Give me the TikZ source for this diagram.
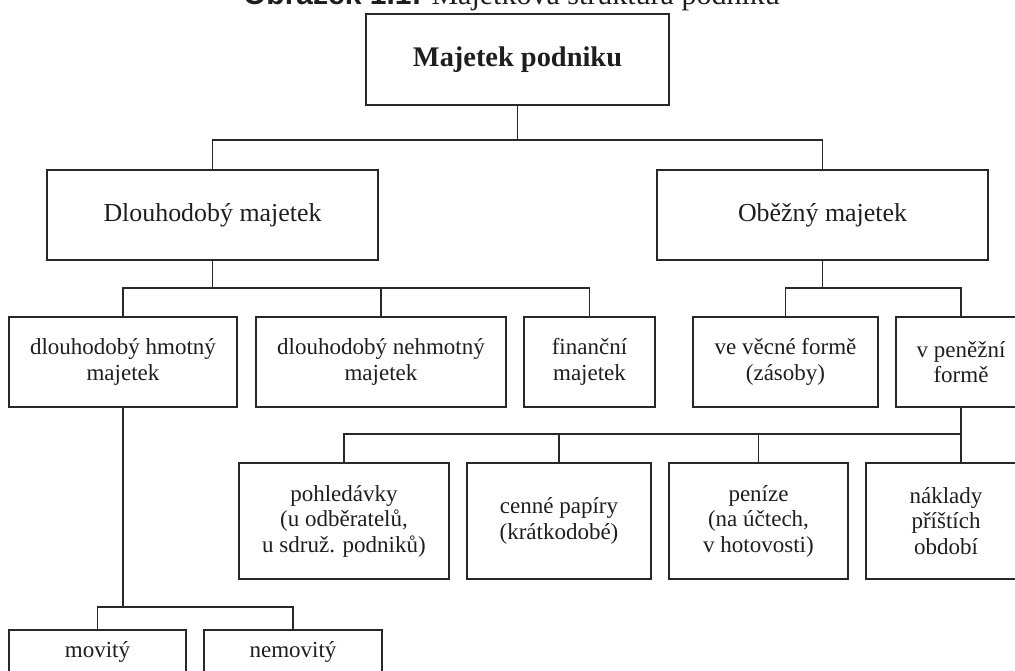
\documentclass[tikz,border=0pt]{standalone}
\usepackage{fontspec}
\setmainfont{Liberation Serif}
\newfontfamily\capfont{Liberation Sans}
\definecolor{linegray}{RGB}{40,40,40}
\definecolor{textgray}{RGB}{30,30,30}

\begin{document}
\begin{tikzpicture}[x=1pt, y=-1pt, line width=1.5pt, line cap=rect, line join=miter,
  box/.style={draw=linegray, inner sep=0pt, outer sep=0pt, align=center, text=textgray,
    font=\fontsize{23}{25.5}\selectfont},
  topbox/.style={box, font=\fontsize{28.4}{32}\selectfont\bfseries},
  midbox/.style={box, font=\fontsize{25.9}{29}\selectfont},
  link/.style={draw=linegray}]

  %% ════ 标题（上半截被页面裁掉）════
  \node[anchor=base, text=textgray, font=\fontsize{30}{34}\selectfont] (caption) at (511.5,4.5)
    {{\capfont\bfseries Obrázek 1.1:} Majetková struktura podniku};

  %% ════ 方框 ════
  \node[topbox, minimum width=303, minimum height=91] (top) at (517.5,59.5) {Majetek podniku};

  \node[midbox, minimum width=331, minimum height=90] (dlouho) at (212.5,215) {Dlouhodobý majetek};
  \node[midbox, minimum width=331, minimum height=90] (obezny) at (822.5,215) {Oběžný majetek};

  \node[box, minimum width=228, minimum height=90] (hmotny)   at (123,362)   {dlouhodobý hmotný\\majetek};
  \node[box, minimum width=250, minimum height=90] (nehmotny) at (381,362)   {dlouhodobý nehmotný\\majetek};
  \node[box, minimum width=131, minimum height=90] (financni) at (589.5,362) {finanční\\majetek};
  \node[box, minimum width=185, minimum height=90] (vecne)    at (785.5,362) {ve věcné formě\\(zásoby)};
  \node[box, minimum width=130, minimum height=90] (penezni)  at (961,362)   {v peněžní\\formě};

  \node[box, minimum width=210, minimum height=116] (pohled)  at (344,521)   {pohledávky\\(u odběratelů,\\u sdruž. podniků)};
  \node[box, minimum width=184, minimum height=116] (cenne)   at (559,521)   {cenné papíry\\(krátkodobé)};
  \node[box, minimum width=179, minimum height=116] (penize)  at (758.5,521) {peníze\\(na účtech,\\v hotovosti)};
  \node[box, minimum width=160, minimum height=116] (naklady) at (946,521)   {náklady\\příštích\\období};

  \node[box, minimum width=177, minimum height=43] (movity)   at (97.5,651.5) {movitý};
  \node[box, minimum width=178, minimum height=43] (nemovity) at (293,651.5)  {nemovitý};

  %% ════ 分支点 ════
  \coordinate (bus0) at (517.5,140);
  \coordinate (bus1) at (212.5,288);
  \coordinate (bus2) at (822.5,288);
  \coordinate (bus3) at (961,434);
  \coordinate (bus4) at (123,607);

  %% ════ 连线 ════
  \draw[link] (top.south) -- (bus0);
  \draw[link] (dlouho.north) |- (bus0) -| (obezny.north);

  \draw[link] (dlouho.south) -- (bus1);
  \draw[link] (hmotny.north) |- (bus1) -| (financni.north);
  \draw[link] (nehmotny.north) -- (nehmotny.north |- bus1);

  \draw[link] (obezny.south) -- (bus2);
  \draw[link] (vecne.north) |- (bus2) -| (penezni.north);

  \draw[link] (penezni.south) -- (penezni.south |- naklady.north);
  \draw[link] (pohled.north) |- (bus3);
  \draw[link] (cenne.north) -- (cenne.north |- bus3);
  \draw[link] (penize.north) -- (penize.north |- bus3);

  \draw[link] (hmotny.south) -- (bus4);
  \draw[link] (movity.north) |- (bus4) -| (nemovity.north);

  % 钉死画布：右侧和底部的方框被裁掉
  \pgfresetboundingbox
  \path[use as bounding box] (0,0) rectangle (1015,671);
\end{tikzpicture}
\end{document}
